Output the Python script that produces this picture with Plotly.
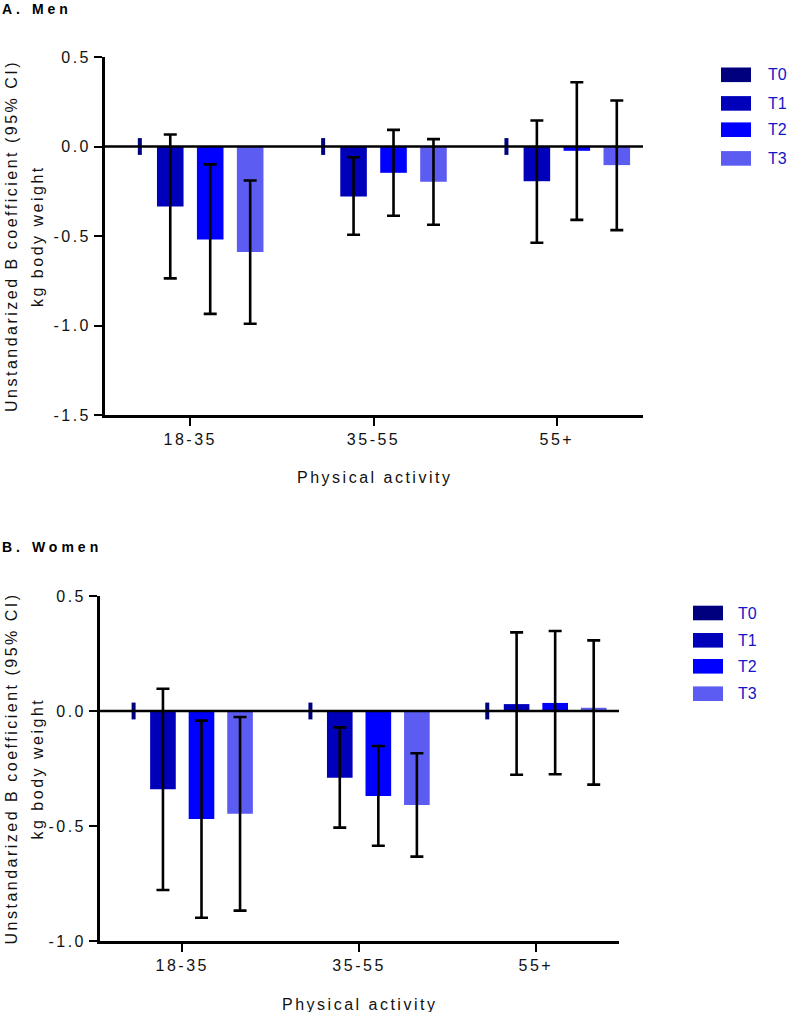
import plotly.graph_objects as go

# ---------------- data ----------------
categories = ["18-35", "35-55", "55+"]
series = ["T0", "T1", "T2", "T3"]

# Panel A: Men (estimate, lower CI, upper CI)
men_T0 = [0.0, 0.0, 0.0]
men_T1 = [-0.335, -0.279, -0.194]
men_T1_lo = [-0.737, -0.493, -0.538]
men_T1_hi = [0.067, -0.060, 0.145]
men_T2 = [-0.520, -0.147, -0.024]
men_T2_lo = [-0.935, -0.387, -0.410]
men_T2_hi = [-0.100, 0.093, 0.359]
men_T3 = [-0.590, -0.197, -0.104]
men_T3_lo = [-0.990, -0.437, -0.467]
men_T3_hi = [-0.190, 0.041, 0.257]

# Panel B: Women
women_T0 = [0.0, 0.0, 0.0]
women_T1 = [-0.340, -0.290, 0.030]
women_T1_lo = [-0.778, -0.507, -0.277]
women_T1_hi = [0.097, -0.071, 0.342]
women_T2 = [-0.470, -0.370, 0.035]
women_T2_lo = [-0.899, -0.586, -0.275]
women_T2_hi = [-0.042, -0.152, 0.348]
women_T3 = [-0.447, -0.409, 0.014]
women_T3_lo = [-0.868, -0.633, -0.320]
women_T3_hi = [-0.026, -0.184, 0.307]

men_ticks = [0.5, 0.0, -0.5, -1.0, -1.5]
men_ticktext = ["0.5", "0.0", "-0.5", "-1.0", "-1.5"]
women_ticks = [0.5, 0.0, -0.5, -1.0]
women_ticktext = ["0.5", "0.0", "-0.5", "-1.0"]

# ---------------- style ----------------
W, H = 787, 1012
FONT = "Arial, Liberation Sans, sans-serif"
colors = {"T0": "#00007F", "T1": "#0000BB", "T2": "#0000FF", "T3": "#5C5CF2"}
slot = {"T0": -0.275, "T1": -0.109, "T2": 0.109, "T3": 0.327}
BAR_W = 0.145
LS = "letter-spacing:2.5px"


def sp(t, ls=LS):
    return f'<span style="{ls}">{t}</span>'


def px_x(p):
    return p / W


def px_y(p):
    return 1 - p / H


fig = go.Figure()

panels = [
    dict(xa="x", ya="y", T0=men_T0,
         bars=[("T1", men_T1, men_T1_lo, men_T1_hi),
               ("T2", men_T2, men_T2_lo, men_T2_hi),
               ("T3", men_T3, men_T3_lo, men_T3_hi)]),
    dict(xa="x2", ya="y2", T0=women_T0,
         bars=[("T1", women_T1, women_T1_lo, women_T1_hi),
               ("T2", women_T2, women_T2_lo, women_T2_hi),
               ("T3", women_T3, women_T3_lo, women_T3_hi)]),
]

for p in panels:
    # reference category T0 drawn as a small tick mark
    fig.add_trace(go.Scatter(
        x=[i + slot["T0"] for i in range(len(categories))], y=p["T0"],
        mode="markers", xaxis=p["xa"], yaxis=p["ya"], showlegend=False,
        marker=dict(symbol="line-ns", size=12,
                    line=dict(width=4, color=colors["T0"]), color=colors["T0"]),
        hoverinfo="skip"))
    for name, est, lo, hi in p["bars"]:
        fig.add_trace(go.Bar(
            x=[i + slot[name] for i in range(len(categories))], y=est,
            width=BAR_W, xaxis=p["xa"], yaxis=p["ya"], showlegend=False,
            marker=dict(color=colors[name], line=dict(width=0)),
            error_y=dict(type="data", symmetric=False,
                         array=[h - e for h, e in zip(hi, est)],
                         arrayminus=[e - l for e, l in zip(est, lo)],
                         color="black", thickness=2.6, width=6.5),
            name=name))

# plot areas (page pixels)
A = dict(x0=105, x1=643, ytop=57, ybot=415)
B = dict(x0=100, x1=619, ytop=596, ybot=941)
xrange = [-0.465, 2.47]

axis_common = dict(showgrid=False, zeroline=False, showline=True,
                   linecolor="black", linewidth=2.6, ticks="outside",
                   ticklen=8, tickwidth=2.4, tickcolor="black", automargin=False,
                   tickfont=dict(family=FONT, size=16, color="#111111"))

fig.update_layout(
    template="none",
    width=W, height=H, margin=dict(l=0, r=0, t=0, b=0, pad=0),
    paper_bgcolor="white", plot_bgcolor="white", barmode="overlay",
    showlegend=False,
    xaxis=dict(domain=[px_x(A["x0"]), px_x(A["x1"])], range=xrange,
               tickvals=list(range(len(categories))),
               ticktext=[sp(c) for c in categories], anchor="y",
               ticklabelstandoff=0, **axis_common),
    yaxis=dict(domain=[px_y(A["ybot"]), px_y(A["ytop"])], range=[-1.5, 0.5],
               tickvals=men_ticks, ticktext=[sp(t) for t in men_ticktext],
               anchor="x", ticklabelstandoff=0, **axis_common),
    xaxis2=dict(domain=[px_x(B["x0"]), px_x(B["x1"])], range=xrange,
                tickvals=list(range(len(categories))),
                ticktext=[sp(c) for c in categories], anchor="y2",
                ticklabelstandoff=0, **axis_common),
    yaxis2=dict(domain=[px_y(B["ybot"]), px_y(B["ytop"])], range=[-1.0, 0.5],
                tickvals=women_ticks, ticktext=[sp(t) for t in women_ticktext],
                anchor="x2", ticklabelstandoff=0, **axis_common),
)

# zero reference lines
for xa, ya in [("x", "y"), ("x2", "y2")]:
    fig.add_shape(type="line", xref=f"{xa} domain", yref=ya, x0=0, x1=1,
                  y0=0, y1=0, line=dict(color="black", width=2.6), layer="above")

ann = []
# panel titles
ann.append(dict(text=sp("<b>A. Men</b>", "letter-spacing:4px"), x=0, y=px_y(9),
                xanchor="left", yanchor="middle",
                font=dict(family=FONT, size=14, color="black")))
ann.append(dict(text=sp("<b>B. Women</b>", "letter-spacing:4px"), x=0, y=px_y(547),
                xanchor="left", yanchor="middle",
                font=dict(family=FONT, size=14, color="black")))

ytitle1 = "Unstandarized B coefficient (95% CI)"
ytitle2 = "kg body weight"
xtitle = "Physical activity"
for P in (A, B):
    yc = px_y((P["ytop"] + P["ybot"]) / 2)
    ann.append(dict(text=sp(ytitle1), x=px_x(11), y=yc, textangle=-90,
                    xanchor="center", yanchor="middle",
                    font=dict(family=FONT, size=16, color="#111111")))
    ann.append(dict(text=sp(ytitle2), x=px_x(37), y=yc, textangle=-90,
                    xanchor="center", yanchor="middle",
                    font=dict(family=FONT, size=16, color="#111111")))
    ann.append(dict(text=sp(xtitle), x=px_x((P["x0"] + P["x1"]) / 2),
                    y=px_y(P["ybot"] + 63), xanchor="center", yanchor="middle",
                    font=dict(family=FONT, size=16, color="#111111")))

shapes = []
# legends
legend_specs = [
    dict(sx0=721, sx1=751, tx=766, ys=[74.8, 103.4, 129.7, 158.4]),
    dict(sx0=693, sx1=723, tx=736, ys=[613.0, 640.3, 666.3, 693.7]),
]
for L in legend_specs:
    for name, yc in zip(series, L["ys"]):
        shapes.append(dict(type="rect", xref="paper", yref="paper",
                           x0=px_x(L["sx0"]), x1=px_x(L["sx1"]),
                           y0=px_y(yc + 7.3), y1=px_y(yc - 7.3),
                           fillcolor=colors[name], line=dict(width=0)))
        ann.append(dict(text=name, x=px_x(L["tx"]),
                        y=px_y(yc), xanchor="left", yanchor="middle",
                        font=dict(family=FONT, size=16, color="#1414C8")))

for a in ann:
    a.update(xref="paper", yref="paper", showarrow=False)
    fig.add_annotation(**a)
for s in shapes:
    fig.add_shape(**s)

fig.write_html(
    "out.html",
    config={"displayModeBar": False},
    post_script="document.body.style.margin='0';document.body.style.overflow='hidden';",
)
